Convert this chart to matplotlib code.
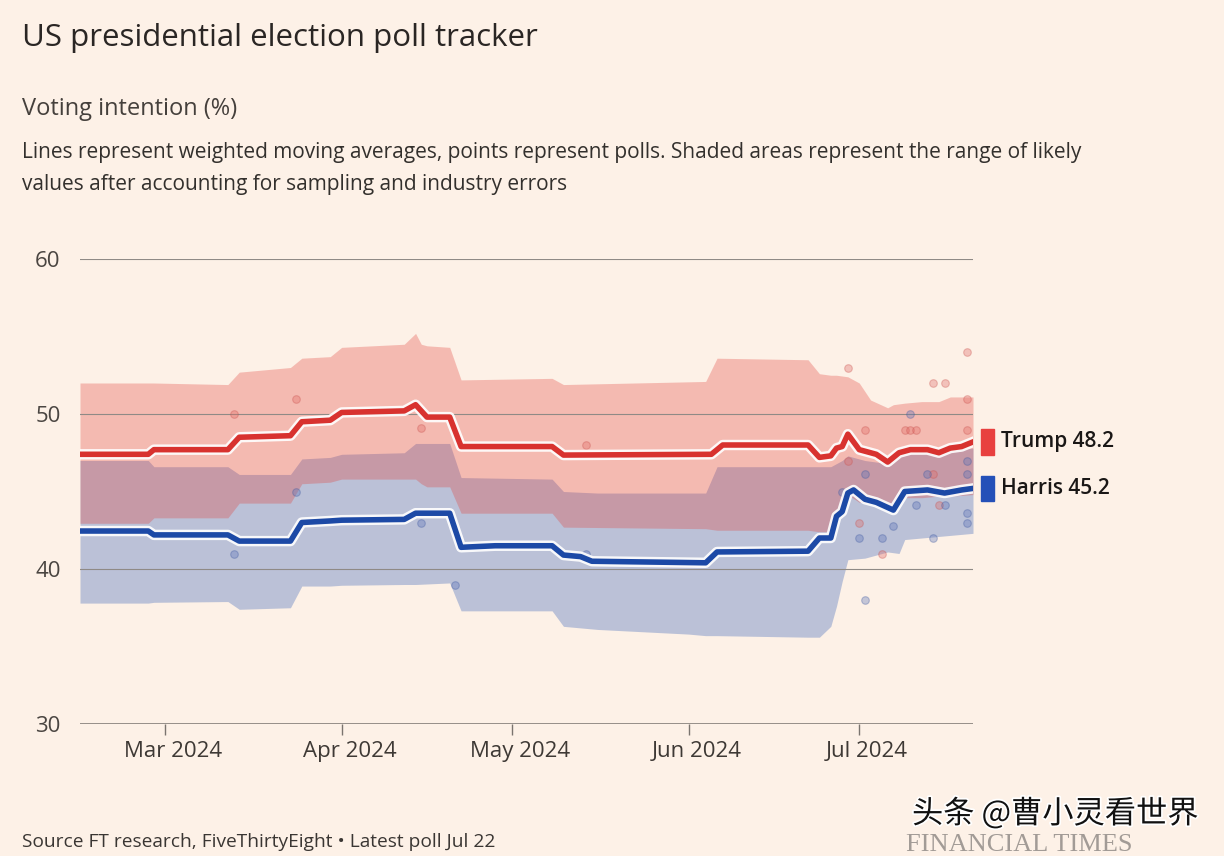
import matplotlib.pyplot as plt
import matplotlib.patheffects as pe
import pandas as pd
from matplotlib.patches import Rectangle
from matplotlib.transforms import ScaledTranslation, blended_transform_factory

# ---- data ----
trump_dates = ["02-15", "02-27", "02-28", "03-12", "03-14", "03-23", "03-25", "03-30",
               "04-01", "04-12", "04-14", "04-16", "04-20", "04-22", "05-08", "05-10",
               "06-05", "06-07", "06-22", "06-24", "06-26", "06-27", "06-28", "06-29",
               "07-01", "07-03", "07-04", "07-06", "07-08", "07-10", "07-13", "07-15",
               "07-17", "07-19", "07-21"]
trump_avg = [47.4, 47.4, 47.7, 47.7, 48.5, 48.6, 49.5, 49.6,
             50.1, 50.2, 50.6, 49.8, 49.8, 47.9, 47.9, 47.35,
             47.4, 48.0, 48.0, 47.2, 47.3, 47.8, 47.9, 48.7,
             47.7, 47.5, 47.4, 46.9, 47.5, 47.7, 47.7, 47.5,
             47.8, 47.9, 48.2]

harris_dates = ["02-15", "02-27", "02-28", "03-12", "03-14", "03-23", "03-25", "03-30",
                "04-01", "04-12", "04-14", "04-20", "04-22", "04-28", "05-08", "05-10",
                "05-13", "05-15", "06-04", "06-06", "06-22", "06-24", "06-26", "06-27",
                "06-28", "06-29", "06-30", "07-02", "07-04", "07-07", "07-09", "07-13",
                "07-16", "07-19", "07-21"]
harris_avg = [42.45, 42.45, 42.2, 42.2, 41.8, 41.8, 43.0, 43.1,
              43.15, 43.2, 43.6, 43.6, 41.4, 41.5, 41.5, 40.9,
              40.8, 40.5, 40.4, 41.1, 41.15, 42.0, 42.0, 43.4,
              43.7, 44.9, 45.1, 44.5, 44.3, 43.8, 45.0, 45.1,
              44.9, 45.1, 45.2]

trump_band_dates = ["02-15", "02-27", "02-28", "03-12", "03-14", "03-23", "03-25", "03-30",
                    "04-01", "04-12", "04-14", "04-15", "04-16", "04-20", "04-22", "05-08",
                    "05-10", "06-04", "06-06", "06-22", "06-24", "06-26", "06-27", "06-29",
                    "07-01", "07-03", "07-06", "07-07", "07-09", "07-12", "07-15", "07-17",
                    "07-21"]
trump_hi = [52.0, 52.0, 52.0, 51.9, 52.7, 53.0, 53.6, 53.7,
            54.3, 54.5, 55.2, 54.5, 54.4, 54.3, 52.2, 52.3,
            51.9, 52.1, 53.6, 53.5, 52.6, 52.5, 52.5, 52.4,
            52.0, 50.9, 50.4, 50.6, 50.7, 50.8, 50.8, 51.1,
            51.1]
trump_lo = [42.95, 42.95, 43.3, 43.3, 44.25, 44.25, 45.5, 45.6,
            45.8, 45.8, 45.8, 45.5, 45.3, 45.3, 43.6, 43.6,
            42.7, 42.6, 42.5, 42.5, 42.4, 42.4, 43.2, 44.8,
            44.3, 44.25, 44.2, 43.8, 44.6, 44.6, 44.7, 44.7,
            44.8]

harris_band_dates = ["02-15", "02-27", "02-28", "03-12", "03-14", "03-23", "03-25", "03-30",
                     "04-01", "04-12", "04-14", "04-20", "04-22", "05-08", "05-10", "05-16",
                     "06-01", "06-04", "06-06", "06-22", "06-24", "06-26", "06-27", "06-28",
                     "06-29", "07-02", "07-06", "07-08", "07-09", "07-21"]
harris_hi = [47.0, 47.0, 46.6, 46.6, 46.1, 46.1, 47.1, 47.2,
             47.4, 47.5, 48.1, 48.1, 45.9, 45.8, 45.0, 44.9,
             44.9, 44.9, 46.6, 46.6, 46.6, 46.6, 46.8, 47.0,
             47.3, 47.0, 46.8, 47.5, 47.5, 47.8]
harris_lo = [37.8, 37.8, 37.85, 37.9, 37.4, 37.5, 38.9, 38.9,
             38.95, 39.0, 39.0, 39.1, 37.3, 37.3, 36.3, 36.1,
             35.8, 35.7, 35.7, 35.6, 35.6, 36.3, 37.6, 39.2,
             40.6, 40.7, 41.1, 41.0, 41.9, 42.3]

trump_poll_dates = ["03-13", "03-24", "04-15", "05-14", "06-29", "06-29", "07-01", "07-02",
                    "07-05", "07-09", "07-10", "07-11", "07-14", "07-14", "07-15", "07-16",
                    "07-20", "07-20", "07-20"]
trump_polls = [50.0, 51.0, 49.1, 48.0, 53.0, 47.0, 43.0, 49.0,
               41.0, 49.0, 49.0, 49.0, 52.0, 46.1, 44.1, 52.0,
               54.0, 51.0, 49.0]

harris_poll_dates = ["03-13", "03-24", "04-15", "04-21", "05-14", "06-28", "07-01", "07-02",
                     "07-02", "07-05", "07-07", "07-10", "07-11", "07-13", "07-14", "07-16",
                     "07-20", "07-20", "07-20", "07-20"]
harris_polls = [41.0, 45.0, 43.0, 39.0, 41.0, 45.0, 42.0, 46.1,
                38.0, 42.0, 42.8, 50.0, 44.1, 46.1, 42.0, 44.1,
                47.0, 46.1, 43.6, 43.0]

month_ticks = ["03-01", "04-01", "05-01", "06-01", "07-01"]
month_labels = ["Mar 2024", "Apr 2024", "May 2024", "Jun 2024", "Jul 2024"]
y_ticks = [30, 40, 50, 60]


def to_dates(days):
    return pd.to_datetime(["2024-" + d for d in days])


BG = "#fdf1e7"
RED = "#e23d36"
BLUE = "#2454b2"
RED_LINE = "#d8322f"
BLUE_LINE = "#1c49a6"

plt.rcParams["font.family"] = ["Open Sans", "DejaVu Sans"]

fig = plt.figure(figsize=(12.24, 8.56), dpi=100, facecolor=BG)
ax = fig.add_axes([80 / 1224, 1 - 724 / 856, 893 / 1224, 465 / 856])
ax.set_facecolor(BG)

ax.fill_between(to_dates(harris_band_dates), harris_lo, harris_hi,
                color=BLUE, alpha=0.3, lw=0, zorder=1)
ax.fill_between(to_dates(trump_band_dates), trump_lo, trump_hi,
                color=RED, alpha=0.3, lw=0, zorder=2)

for v in y_ticks[1:]:
    ax.axhline(v, color="#8f8a86", lw=0.8, zorder=3)
ax.axhline(30, color="#7a746f", lw=1.1, zorder=3)

ax.scatter(to_dates(trump_poll_dates), trump_polls, s=30, color="#e06a66",
           alpha=0.35, edgecolor="#c9504d", linewidth=0.8, zorder=4)
ax.scatter(to_dates(harris_poll_dates), harris_polls, s=30, color="#5b73b8",
           alpha=0.35, edgecolor="#3d58a0", linewidth=0.8, zorder=4)

halo = [pe.Stroke(linewidth=7.5, foreground="white", alpha=0.9), pe.Normal()]
ax.plot(to_dates(trump_dates), trump_avg, color=RED_LINE, lw=4,
        solid_joinstyle="round", path_effects=halo, zorder=5)
ax.plot(to_dates(harris_dates), harris_avg, color=BLUE_LINE, lw=4,
        solid_joinstyle="round", path_effects=halo, zorder=5)

ax.set_xlim(pd.Timestamp("2024-02-15"), pd.Timestamp("2024-07-21"))
ax.set_ylim(30, 60)
for s in ax.spines.values():
    s.set_visible(False)

ax.set_yticks(y_ticks)
ax.set_yticklabels([str(v) for v in y_ticks])
ax.tick_params(axis="y", length=0, pad=14, labelsize=16, labelcolor="#4a4541")
ax.set_xticks(to_dates(month_ticks))
ax.set_xticklabels(month_labels)
ax.tick_params(axis="x", length=8, width=1, color="#7a746f", pad=4,
               labelsize=16, labelcolor="#3e3935")
for lab in ax.get_xticklabels():
    lab.set_transform(lab.get_transform() + ScaledTranslation(8 / 100, 0, fig.dpi_scale_trans))

# end labels
trans = blended_transform_factory(ax.transAxes, ax.transData)
ends = [(trump_avg[-1], "#e8403f", "Trump"), (harris_avg[-1], "#2450b8", "Harris")]
for val, col, name in ends:
    ax.add_patch(Rectangle((1.009, val - 0.82), 13 / 893, 1.64, transform=trans,
                           color=col, clip_on=False, zorder=6))
    ax.text(1.031, val, f"{name} {val}", transform=trans, va="center", ha="left",
            fontsize=15, fontweight="semibold", color="#1a1716")

# header
fig.text(22 / 1224, 1 - 46 / 856, "US presidential election poll tracker",
         fontsize=22.5, color="#2a2624", va="baseline")
fig.text(22 / 1224, 1 - 115 / 856, "Voting intention (%)",
         fontsize=17, color="#45403c", va="baseline")
fig.text(22 / 1224, 1 - 158 / 856,
         "Lines represent weighted moving averages, points represent polls. "
         "Shaded areas represent the range of likely",
         fontsize=15, color="#33302d", va="baseline")
fig.text(22 / 1224, 1 - 190 / 856, "values after accounting for sampling and industry errors",
         fontsize=15, color="#33302d", va="baseline")

# footer
fig.text(22 / 1224, 1 - 847 / 856,
         "Source FT research, FiveThirtyEight \u2022 Latest poll Jul 22",
         fontsize=13.8, color="#3a3633", va="baseline")
fig.text(906 / 1224, 1 - 851 / 856, "FINANCIAL TIMES", family="Liberation Serif",
         fontsize=19, color="#a29b96", va="baseline")
fig.text(912 / 1224, 1 - 814 / 856, "头条 @曹小灵看世界",
         family=["Noto Sans CJK SC", "DejaVu Sans"], fontsize=22.5, color="#111111",
         va="center", path_effects=[pe.withStroke(linewidth=2.5, foreground="white")])

fig.savefig("out.png", dpi=100, facecolor=BG)
